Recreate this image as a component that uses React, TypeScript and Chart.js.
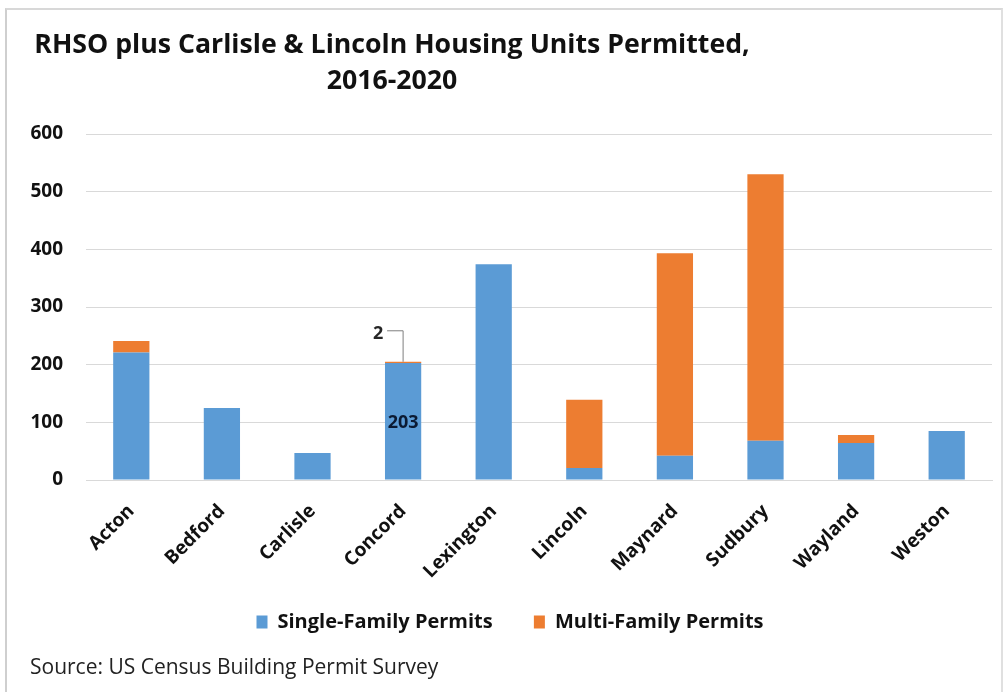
import React, { useEffect, useRef } from "react";
import { Chart, registerables } from "chart.js";

Chart.register(...registerables);

const categories = ["Acton", "Bedford", "Carlisle", "Concord", "Lexington", "Lincoln", "Maynard", "Sudbury", "Wayland", "Weston"];
const singleFamily = [221, 125, 47, 203, 374, 21, 42, 68, 64, 85];
const multiFamily = [20, 0, 0, 2, 0, 118, 351, 462, 14, 0];
const yTicks = [0, 100, 200, 300, 400, 500, 600];

const FONT = "'Open Sans', sans-serif";

const labelPlugin = {
  id: "concordLabels",
  afterDatasetsDraw(chart: any) {
    const idx = 3;
    const m0 = chart.getDatasetMeta(0).data[idx];
    const m1 = chart.getDatasetMeta(1).data[idx];
    const ctx = chart.ctx;
    ctx.save();
    ctx.font = `bold 18px ${FONT}`;
    ctx.fillStyle = "#0b1a33";
    ctx.textAlign = "center";
    ctx.textBaseline = "middle";
    ctx.fillText(String(singleFamily[idx]), m0.x, (m0.y + m0.base) / 2 + 2);
    const topY = m1.y;
    ctx.strokeStyle = "#7f7f7f";
    ctx.lineWidth = 1;
    ctx.beginPath();
    ctx.moveTo(m1.x, topY);
    ctx.lineTo(m1.x, topY - 31);
    ctx.lineTo(m1.x - 16, topY - 31);
    ctx.stroke();
    ctx.fillStyle = "#262626";
    ctx.fillText(String(multiFamily[idx]), m1.x - 25, topY - 28);
    ctx.restore();
  },
};

export default function App() {
  const ref = useRef<HTMLCanvasElement>(null);
  useEffect(() => {
    document.body.style.margin = "0";
    const chart = new Chart(ref.current!, {
      type: "bar",
      data: {
        labels: categories,
        datasets: [
          { label: "Single-Family Permits", data: singleFamily, backgroundColor: "#5b9bd5", barPercentage: 0.4, categoryPercentage: 1 },
          { label: "Multi-Family Permits", data: multiFamily, backgroundColor: "#ed7d31", barPercentage: 0.4, categoryPercentage: 1 },
        ],
      },
      options: {
        animation: false,
        responsive: false,
        maintainAspectRatio: false,
        layout: { padding: { top: 134, left: 28, right: 15, bottom: 50 } },
        plugins: {
          legend: {
            position: "bottom",
            labels: {
              boxWidth: 11,
              boxHeight: 13,
              padding: 10,
              color: "#111",
              font: { family: FONT, size: 20, weight: "bold" },
              generateLabels: (c: any) => {
                const items = Chart.defaults.plugins.legend.labels.generateLabels(c);
                return items.map((it: any, i: number) => ({ ...it, text: i === 0 ? it.text + "      " : it.text }));
              },
            },
          },
          tooltip: { enabled: false },
          title: { display: false },
        },
        scales: {
          x: {
            stacked: true,
            grid: { display: false },
            border: { display: true, color: "#d9d9d9" },
            ticks: {
              color: "#111",
              font: { family: FONT, size: 19, weight: "bold" },
              minRotation: 45,
              maxRotation: 45,
              padding: 12,
            },
            afterFit: (s: any) => { s.height = 122; },
          },
          y: {
            stacked: true,
            min: 0,
            max: 600,
            afterBuildTicks: (s: any) => { s.ticks = yTicks.map((v) => ({ value: v })); },
            grid: { color: "#d9d9d9", lineWidth: 1, drawTicks: false },
            border: { display: false },
            ticks: {
              color: "#111",
              font: { family: FONT, size: 19, weight: "bold" },
              padding: 23,
            },
            afterFit: (s: any) => { s.width = 58; },
          },
        },
      },
      plugins: [labelPlugin],
    });
    return () => chart.destroy();
  }, []);

  return (
    <div style={{ position: "relative", width: 1007, height: 692, background: "#fff", overflow: "hidden" }}>
      <div style={{ position: "absolute", left: 5, top: 8, width: 994, height: 690, borderLeft: "2px solid #cfcfcf", borderTop: "2px solid #d8d8d8", borderRight: "2px solid #e0e0e0" }} />
      <canvas ref={ref} width={1007} height={692} style={{ position: "absolute", left: 0, top: 0 }} />
      <div style={{ position: "absolute", left: 0, width: 784, top: 25, textAlign: "center", fontFamily: FONT, fontWeight: "bold", fontSize: 26.7, lineHeight: "36px", color: "#111" }}>
        RHSO plus Carlisle &amp; Lincoln Housing Units Permitted,
        <br />
        2016-2020
      </div>
      <div style={{ position: "absolute", left: 30, top: 652, fontFamily: FONT, fontSize: 21, color: "#222" }}>
        Source: US Census Building Permit Survey
      </div>
    </div>
  );
}
